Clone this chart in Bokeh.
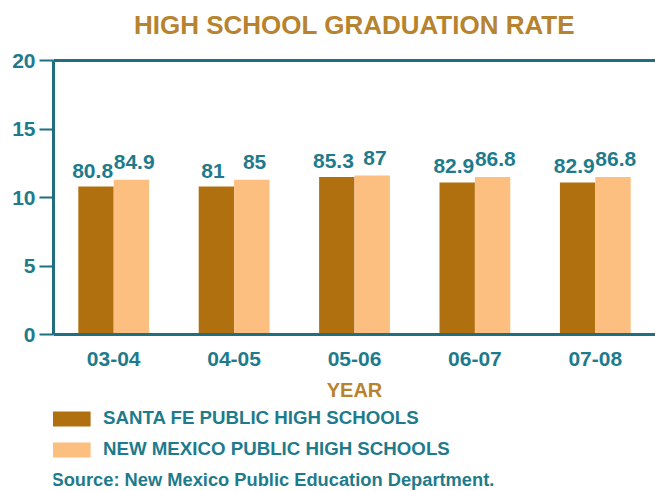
from bokeh.plotting import figure
from bokeh.models import ColumnDataSource, Legend, LegendItem, Span, FixedTicker, Label
from bokeh.transform import dodge
from bokeh.core.properties import value
from bokeh.embed import file_html
from bokeh.resources import INLINE

years = ["03-04", "04-05", "05-06", "06-07", "07-08"]
santa_fe_heights = [10.8, 10.8, 11.5, 11.1, 11.1]
new_mexico_heights = [11.3, 11.3, 11.6, 11.5, 11.5]
santa_fe_labels = ["80.8", "81", "85.3", "82.9", "82.9"]
new_mexico_labels = ["84.9", "85", "87", "86.8", "86.8"]
y_ticks = [0, 5, 10, 15, 20]

TEAL = "#1e7b8c"
AXIS = "#206f80"
BROWN = "#b1700f"
PEACH = "#fdbf80"
GOLD = "#b8832e"
FONT = "Liberation Sans"

# vertical scale: 0 -> 20 spans 274 px; frame extends beyond the axis range
FRAME_TOP = 40
PX_PER_UNIT = 274 / 20
Y_BOTTOM = -(491 - 334) / PX_PER_UNIT
Y_TOP = 20 + (60 - FRAME_TOP) / PX_PER_UNIT

src = ColumnDataSource(dict(year=years, sf=santa_fe_heights, nm=new_mexico_heights,
                            sfl=santa_fe_labels, nml=new_mexico_labels))

p = figure(x_range=years, y_range=(Y_BOTTOM, Y_TOP), width=655, height=491,
           output_backend="svg", toolbar_location=None,
           min_border_left=53, min_border_right=0, min_border_top=FRAME_TOP,
           min_border_bottom=0)

p.title.text = "HIGH SCHOOL GRADUATION RATE"
p.title.align = "center"
p.title.text_font = FONT
p.title.text_font_size = "26px"
p.title.text_font_style = "bold"
p.title.text_color = GOLD
p.title.standoff = 2

p.outline_line_color = None
p.xgrid.grid_line_color = None
p.ygrid.grid_line_color = None

r1 = p.vbar(x=dodge("year", -0.147, range=p.x_range), top="sf", width=0.294, source=src,
            fill_color=BROWN, line_color=None)
r2 = p.vbar(x=dodge("year", 0.147, range=p.x_range), top="nm", width=0.294, source=src,
            fill_color=PEACH, line_color=None)

p.text(x=dodge("year", -0.175, range=p.x_range), y="sf", text="sfl", source=src,
       text_font=value(FONT), text_font_size="21px", text_font_style="bold",
       text_color=TEAL, text_align="center", text_baseline="alphabetic", y_offset=-16)
p.text(x=dodge("year", 0.17, range=p.x_range), y="nm", text="nml", source=src,
       text_font=value(FONT), text_font_size="21px", text_font_style="bold",
       text_color=TEAL, text_align="center", text_baseline="alphabetic", y_offset=-18)

p.add_layout(Span(location=20, dimension="width", line_color=AXIS, line_width=3))

p.yaxis.bounds = (0, 20)
p.yaxis.ticker = FixedTicker(ticks=y_ticks)
p.yaxis.minor_tick_line_color = None
p.yaxis.major_tick_in = 0
p.yaxis.major_tick_out = 14
p.yaxis.major_tick_line_width = 2
p.yaxis.major_tick_line_color = AXIS
p.yaxis.axis_line_color = AXIS
p.yaxis.axis_line_width = 3
p.yaxis.major_label_text_font = FONT
p.yaxis.major_label_text_font_size = "21px"
p.yaxis.major_label_text_font_style = "bold"
p.yaxis.major_label_text_color = TEAL
p.yaxis.major_label_standoff = 4

p.xaxis.fixed_location = 0
p.xaxis.major_tick_line_color = None
p.xaxis.minor_tick_line_color = None
p.xaxis.axis_line_color = AXIS
p.xaxis.axis_line_width = 3
p.xaxis.major_label_text_font = FONT
p.xaxis.major_label_text_font_size = "21px"
p.xaxis.major_label_text_font_style = "bold"
p.xaxis.major_label_text_color = TEAL
p.xaxis.major_label_standoff = 11

p.add_layout(Label(x=2.5, y=-4.05, text="YEAR", text_font=FONT, text_font_size="20px",
                   text_font_style="bold", text_color=GOLD, text_align="center",
                   text_baseline="middle"))
p.add_layout(Label(x=-0.017, y=-10.55, text="Source: New Mexico Public Education Department.",
                   text_font=FONT, text_font_size="18.3px", text_font_style="bold",
                   text_color=TEAL, text_align="left", text_baseline="middle"))

legend = Legend(items=[LegendItem(label="SANTA FE PUBLIC HIGH SCHOOLS", renderers=[r1]),
                       LegendItem(label="NEW MEXICO PUBLIC HIGH SCHOOLS", renderers=[r2])],
                location=(-7, 31), orientation="vertical",
                glyph_width=49, glyph_height=19, label_height=20,
                spacing=9, padding=0, margin=0, label_standoff=8,
                border_line_alpha=0, background_fill_alpha=0,
                label_text_font=FONT, label_text_font_size="18.7px",
                label_text_font_style="bold", label_text_color=TEAL)
p.add_layout(legend)

open("out.html", "w").write(file_html(p, INLINE))
